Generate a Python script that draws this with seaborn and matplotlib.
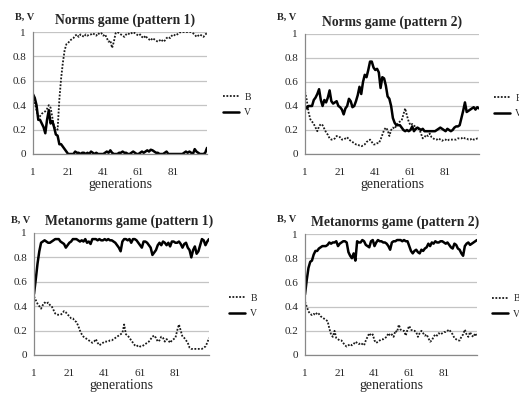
import numpy as np
import pandas as pd
import matplotlib
matplotlib.use("Agg")
import matplotlib.pyplot as plt
import seaborn as sns
from matplotlib.lines import Line2D

generations = list(range(1, 101))

# Norms game (pattern 1)
norms1_B = [0.48, 0.42, 0.36, 0.30, 0.31, 0.33, 0.34, 0.35, 0.37, 0.40,
            0.38, 0.30, 0.22, 0.21, 0.20, 0.45, 0.62, 0.75, 0.85, 0.90,
            0.91, 0.93, 0.94, 0.95, 0.97, 0.98, 0.96, 0.98, 0.97, 0.96,
            0.98, 0.97, 0.98, 0.98, 0.99, 0.98, 0.97, 0.99, 0.98, 0.99,
            0.97, 0.98, 0.95, 0.92, 0.93, 0.87, 0.92, 0.99, 1.00, 0.99,
            0.98, 0.97, 0.96, 0.98, 0.99, 0.98, 0.99, 1.00, 0.99, 0.98,
            0.97, 0.98, 0.96, 0.95, 0.97, 0.95, 0.94, 0.93, 0.95, 0.94,
            0.93, 0.92, 0.93, 0.94, 0.92, 0.93, 0.95, 0.96, 0.95, 0.97,
            0.98, 0.97, 0.98, 0.99, 1.00, 1.00, 1.00, 1.00, 1.00, 1.00,
            1.00, 0.99, 0.98, 0.96, 0.97, 0.98, 0.97, 0.96, 0.98, 0.99]
norms1_V = [0.49, 0.46, 0.40, 0.28, 0.28, 0.25, 0.22, 0.17, 0.28, 0.36,
            0.25, 0.27, 0.22, 0.16, 0.15, 0.08, 0.08, 0.06, 0.04, 0.02,
            0.00, 0.00, 0.00, 0.00, 0.02, 0.01, 0.01, 0.00, 0.01, 0.01,
            0.00, 0.01, 0.00, 0.02, 0.01, 0.00, 0.01, 0.00, 0.00, 0.00,
            0.00, 0.01, 0.02, 0.01, 0.03, 0.01, 0.00, 0.00, 0.00, 0.01,
            0.01, 0.02, 0.01, 0.01, 0.00, 0.00, 0.01, 0.02, 0.01, 0.00,
            0.00, 0.01, 0.02, 0.01, 0.02, 0.03, 0.02, 0.035, 0.03, 0.02,
            0.01, 0.01, 0.00, 0.00, 0.00, 0.01, 0.02, 0.00, 0.00, 0.00,
            0.00, 0.00, 0.00, 0.00, 0.00, 0.00, 0.01, 0.02, 0.01, 0.02,
            0.01, 0.00, 0.04, 0.02, 0.01, 0.00, 0.00, 0.00, 0.01, 0.05]

# Norms game (pattern 2)
norms2_B = [0.52, 0.45, 0.35, 0.29, 0.27, 0.25, 0.22, 0.19, 0.23, 0.25,
            0.24, 0.21, 0.18, 0.16, 0.13, 0.12, 0.12, 0.13, 0.15, 0.14,
            0.14, 0.12, 0.12, 0.13, 0.14, 0.12, 0.11, 0.10, 0.09, 0.08,
            0.08, 0.07, 0.065, 0.07, 0.08, 0.10, 0.11, 0.12, 0.10, 0.08,
            0.08, 0.09, 0.09, 0.12, 0.16, 0.20, 0.22, 0.20, 0.15, 0.20,
            0.22, 0.21, 0.24, 0.26, 0.27, 0.28, 0.33, 0.38, 0.32, 0.27,
            0.24, 0.25, 0.24, 0.22, 0.20, 0.21, 0.17, 0.13, 0.14, 0.16,
            0.15, 0.17, 0.14, 0.13, 0.12, 0.12, 0.13, 0.12, 0.11, 0.12,
            0.12, 0.11, 0.12, 0.12, 0.12, 0.12, 0.12, 0.13, 0.13, 0.13,
            0.14, 0.13, 0.13, 0.12, 0.12, 0.13, 0.12, 0.12, 0.13, 0.13]
norms2_V = [0.40, 0.38, 0.40, 0.40, 0.40, 0.45, 0.47, 0.50, 0.54, 0.45,
            0.40, 0.45, 0.43, 0.47, 0.53, 0.44, 0.42, 0.43, 0.44, 0.40,
            0.39, 0.37, 0.33, 0.38, 0.40, 0.46, 0.44, 0.39, 0.40, 0.44,
            0.49, 0.56, 0.50, 0.60, 0.66, 0.64, 0.70, 0.77, 0.77, 0.72,
            0.70, 0.71, 0.68, 0.55, 0.64, 0.63, 0.57, 0.48, 0.46, 0.40,
            0.30, 0.26, 0.24, 0.24, 0.24, 0.22, 0.20, 0.19, 0.20, 0.19,
            0.20, 0.23, 0.19, 0.21, 0.22, 0.21, 0.20, 0.21, 0.19, 0.19,
            0.19, 0.19, 0.19, 0.19, 0.19, 0.20, 0.21, 0.22, 0.21, 0.20,
            0.19, 0.21, 0.20, 0.19, 0.20, 0.22, 0.23, 0.23, 0.24, 0.30,
            0.36, 0.43, 0.35, 0.36, 0.37, 0.38, 0.39, 0.37, 0.39, 0.38]

# Metanorms game (pattern 1)
meta1_B = [0.48, 0.45, 0.42, 0.40, 0.38, 0.41, 0.43, 0.42, 0.43, 0.41,
           0.40, 0.37, 0.34, 0.33, 0.33, 0.33, 0.34, 0.36, 0.35, 0.33,
           0.32, 0.30, 0.30, 0.28, 0.27, 0.24, 0.20, 0.17, 0.15, 0.14,
           0.13, 0.12, 0.11, 0.10, 0.11, 0.13, 0.10, 0.08, 0.09, 0.10,
           0.11, 0.11, 0.11, 0.12, 0.12, 0.13, 0.14, 0.15, 0.16, 0.17,
           0.18, 0.25, 0.17, 0.16, 0.14, 0.12, 0.10, 0.08, 0.07, 0.08,
           0.07, 0.07, 0.08, 0.09, 0.10, 0.11, 0.13, 0.15, 0.16, 0.14,
           0.11, 0.12, 0.15, 0.14, 0.11, 0.13, 0.12, 0.10, 0.12, 0.13,
           0.14, 0.20, 0.25, 0.20, 0.15, 0.14, 0.12, 0.10, 0.06, 0.05,
           0.05, 0.05, 0.05, 0.05, 0.05, 0.05, 0.06, 0.07, 0.10, 0.14]
meta1_V = [0.50, 0.62, 0.75, 0.85, 0.92, 0.93, 0.94, 0.93, 0.92, 0.92,
           0.93, 0.94, 0.95, 0.95, 0.95, 0.93, 0.92, 0.91, 0.88, 0.90,
           0.92, 0.93, 0.95, 0.95, 0.95, 0.94, 0.93, 0.94, 0.93, 0.95,
           0.92, 0.93, 0.91, 0.95, 0.95, 0.95, 0.94, 0.95, 0.94, 0.94,
           0.95, 0.94, 0.95, 0.94, 0.94, 0.93, 0.92, 0.90, 0.88, 0.85,
           0.93, 0.95, 0.95, 0.94, 0.95, 0.92, 0.95, 0.95, 0.94, 0.92,
           0.90, 0.88, 0.93, 0.93, 0.92, 0.90, 0.88, 0.82, 0.84, 0.86,
           0.90, 0.92, 0.90, 0.93, 0.92, 0.90, 0.92, 0.89, 0.93, 0.93,
           0.92, 0.92, 0.93, 0.91, 0.88, 0.91, 0.92, 0.88, 0.86, 0.80,
           0.86, 0.89, 0.83, 0.85, 0.90, 0.95, 0.94, 0.90, 0.93, 0.95]

# Metanorms game (pattern 2)
meta2_B = [0.44, 0.40, 0.36, 0.34, 0.33, 0.34, 0.33, 0.35, 0.34, 0.32,
           0.31, 0.30, 0.29, 0.28, 0.22, 0.17, 0.15, 0.20, 0.14, 0.13,
           0.12, 0.12, 0.10, 0.08, 0.07, 0.08, 0.09, 0.08, 0.09, 0.11,
           0.10, 0.09, 0.10, 0.09, 0.08, 0.12, 0.15, 0.18, 0.16, 0.17,
           0.12, 0.10, 0.11, 0.12, 0.13, 0.13, 0.14, 0.15, 0.18, 0.16,
           0.17, 0.15, 0.20, 0.19, 0.25, 0.21, 0.20, 0.20, 0.16, 0.21,
           0.24, 0.21, 0.20, 0.20, 0.19, 0.15, 0.18, 0.20, 0.18, 0.16,
           0.17, 0.14, 0.11, 0.12, 0.15, 0.17, 0.16, 0.18, 0.17, 0.18,
           0.19, 0.19, 0.20, 0.21, 0.19, 0.17, 0.14, 0.13, 0.12, 0.12,
           0.15, 0.17, 0.21, 0.17, 0.15, 0.19, 0.16, 0.15, 0.18, 0.15]
meta2_V = [0.50, 0.62, 0.72, 0.77, 0.78, 0.83, 0.86, 0.86, 0.88, 0.89,
           0.90, 0.90, 0.90, 0.91, 0.93, 0.92, 0.93, 0.93, 0.94, 0.90,
           0.92, 0.93, 0.94, 0.94, 0.93, 0.85, 0.82, 0.80, 0.84, 0.78,
           0.94, 0.93, 0.93, 0.95, 0.94, 0.91, 0.90, 0.89, 0.94, 0.95,
           0.90, 0.93, 0.95, 0.94, 0.94, 0.93, 0.93, 0.92, 0.90, 0.87,
           0.93, 0.94, 0.94, 0.95, 0.95, 0.95, 0.94, 0.95, 0.94, 0.94,
           0.90, 0.86, 0.84, 0.86, 0.87, 0.85, 0.84, 0.87, 0.86, 0.88,
           0.89, 0.92, 0.90, 0.93, 0.92, 0.94, 0.93, 0.93, 0.94, 0.94,
           0.93, 0.92, 0.93, 0.91, 0.89, 0.88, 0.92, 0.91, 0.88, 0.87,
           0.84, 0.82, 0.90, 0.92, 0.93, 0.91, 0.92, 0.93, 0.94, 0.95]

titles = ["Norms game (pattern 1)", "Norms game (pattern 2)",
          "Metanorms game (pattern 1)", "Metanorms game (pattern 2)"]
series_names = ["B", "V"]
x_tick_labels = ["1", "21", "41", "61", "81"]
y_tick_labels = ["0", "0.2", "0.4", "0.6", "0.8", "1"]

sns.set_style("white")
plt.rcParams['font.family'] = ['Liberation Serif', 'DejaVu Serif']

fig = plt.figure(figsize=(5.19, 3.94), dpi=100)

W, H = 519.0, 394.0
# pixel boxes: left, right, top, bottom
boxes = [(33, 207, 32, 154), (305, 479, 34, 154),
         (34, 209, 233, 355), (305, 477, 234, 355)]
legend_x = [223, 494, 229, 492]
bv_pos = [(15, 17), (277, 17), (11, 220), (277, 219)]
title_dx = [5, 0, 8, 4]

panels = [(norms1_B, norms1_V), (norms2_B, norms2_V),
          (meta1_B, meta1_V), (meta2_B, meta2_V)]

grid_c = "#c4c4c4"
dot_style = (0, (1, 0.9))
for i, ((bvals, vvals), title, box) in enumerate(zip(panels, titles, boxes)):
    l, r, t, b = box
    ax = fig.add_axes([l / W, 1 - b / H, (r - l) / W, (b - t) / H])
    df = pd.DataFrame({"generation": generations * 2,
                       "value": list(bvals) + list(vvals),
                       "series": ["B"] * 100 + ["V"] * 100})
    sns.lineplot(data=df[df.series == "B"], x="generation", y="value",
                 ax=ax, color="#1a1a1a", linewidth=1.3, linestyle=dot_style)
    sns.lineplot(data=df[df.series == "V"], x="generation", y="value",
                 ax=ax, color="black", linewidth=1.8)
    ax.set_xlim(1, 100)
    ax.set_ylim(0, 1)
    ax.set_yticks([0, 0.2, 0.4, 0.6, 0.8, 1.0])
    ax.set_yticklabels(y_tick_labels, fontsize=8)
    ax.set_xticks([1, 21, 41, 61, 81])
    ax.set_xticklabels(x_tick_labels, fontsize=8)
    ax.set_xticks([11, 31, 51, 71, 91, 100], minor=True)
    ax.tick_params(axis="x", which="both", direction="out", length=3,
                   color="#888888", width=0.8, pad=7)
    ax.tick_params(axis="y", length=0, pad=5)
    ax.set_xlabel("generations", fontsize=10, labelpad=0.5)
    ax.set_ylabel("")
    ax.grid(axis="y", color=grid_c, linewidth=0.9)
    ax.grid(axis="x", visible=False)
    ax.set_axisbelow(True)
    for s in ["top", "right"]:
        ax.spines[s].set_visible(False)
    for s in ["left", "bottom"]:
        ax.spines[s].set_color("#888888")
        ax.spines[s].set_linewidth(0.9)
    fig.text(((l + r) / 2 + title_dx[i]) / W, 1 - (t - 12) / H, title,
             fontsize=9.8, fontweight="bold", ha="center", va="center")
    bx, by = bv_pos[i]
    fig.text(bx / W, 1 - by / H, "B, V", fontsize=7.5,
             fontweight="bold", ha="left", va="center")
    handles = [Line2D([], [], color="#1a1a1a", linewidth=1.3, linestyle=dot_style),
               Line2D([], [], color="black", linewidth=1.8)]
    fig.legend(handles, series_names, loc="center left",
               bbox_to_anchor=(legend_x[i] / W, 1 - ((t + b) / 2 + 12) / H),
               frameon=False, fontsize=7, handlelength=1.6, handletextpad=0.6,
               labelspacing=0.65, borderpad=0, borderaxespad=0)

fig.savefig("out.png", dpi=100)
